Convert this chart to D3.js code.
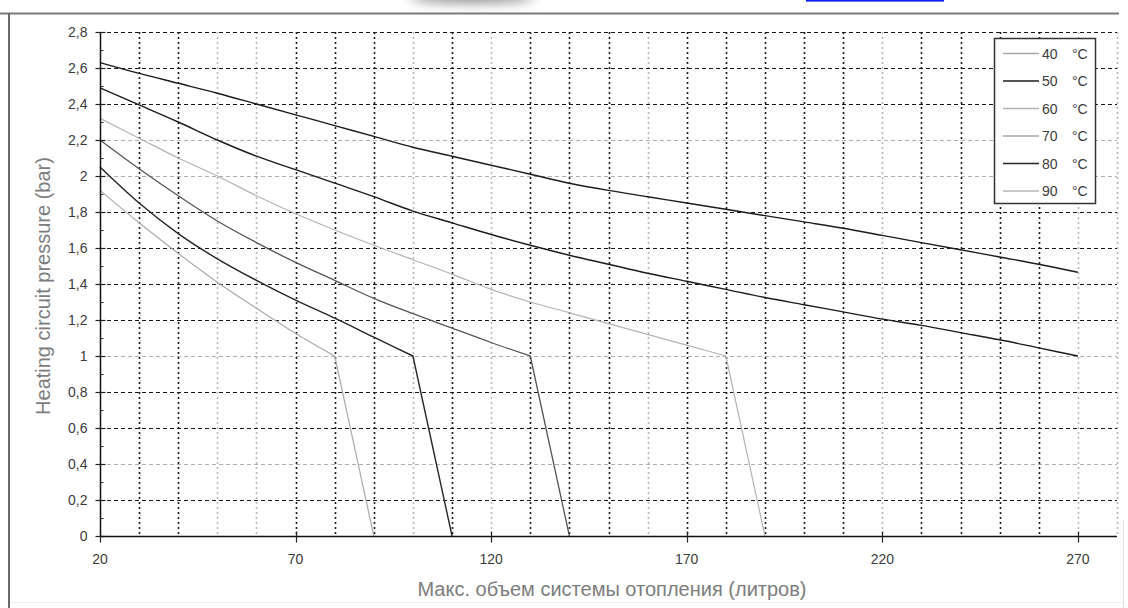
<!DOCTYPE html>
<html>
<head>
<meta charset="utf-8">
<script src="https://cdn.jsdelivr.net/npm/d3@7"></script>
<style>
  html, body { margin: 0; padding: 0; background: #fff; }
  svg { display: block; }
</style>
</head>
<body>
<svg id="chart" width="1128" height="608"></svg>
<script>
// ---------------- data ----------------
const seriesNames = ["40", "50", "60", "70", "80", "90"];
const vol40 = [20,30,40,50,60,70,80,90,100,110,120,130,140,150,160,170,180,190,200,210,220,230,240,250,260,270];
const p40   = [2.63,2.57,2.515,2.46,2.40,2.34,2.28,2.22,2.16,2.11,2.06,2.01,1.96,1.92,1.885,1.85,1.815,1.78,1.745,1.71,1.67,1.63,1.59,1.55,1.51,1.465];
const vol50 = [20,30,40,50,60,70,80,90,100,110,120,130,140,150,160,170,180,190,200,210,220,230,240,250,260,270];
const p50   = [2.49,2.395,2.30,2.20,2.11,2.035,1.96,1.885,1.805,1.74,1.675,1.615,1.56,1.51,1.46,1.415,1.37,1.325,1.285,1.245,1.205,1.17,1.13,1.09,1.045,1.0];
const vol60 = [20,30,40,50,60,70,80,90,100,110,120,130,140,150,160,170,180,190];
const p60   = [2.32,2.21,2.10,2.0,1.89,1.79,1.70,1.615,1.535,1.455,1.37,1.30,1.24,1.18,1.12,1.06,1.0,0];
const vol70 = [20,30,40,50,60,70,80,90,100,110,120,130,140];
const p70   = [2.20,2.04,1.89,1.75,1.63,1.52,1.42,1.32,1.235,1.155,1.075,1.0,0];
const vol80 = [20,30,40,50,60,70,80,90,100,110];
const p80   = [2.05,1.85,1.68,1.54,1.42,1.31,1.21,1.105,1.0,0];
const vol90 = [20,30,40,50,60,70,80,90];
const p90   = [1.92,1.74,1.57,1.41,1.265,1.125,1.0,0];

const xTickValues = [20,70,120,170,220,270];
const xTickLabels = ["20","70","120","170","220","270"];
const yTickValues = [0,0.2,0.4,0.6,0.8,1,1.2,1.4,1.6,1.8,2,2.2,2.4,2.6,2.8];
const yTickLabels = ["0","0,2","0,4","0,6","0,8","1","1,2","1,4","1,6","1,8","2","2,2","2,4","2,6","2,8"];
const xTitle = "Макс. объем системы отопления (литров)";
const yTitle = "Heating circuit pressure (bar)";
const unitLabel = "°C";

// ---------------- style ----------------
const lineColors   = ["#1c1c1c", "#1c1c1c", "#b4b4b4", "#555555", "#262626", "#ababab"];
const lineWidths   = [1.4, 1.4, 1.2, 1.3, 1.4, 1.2];
const legendColors = ["#a8a8a8", "#1c1c1c", "#b4b4b4", "#aaaaaa", "#262626", "#b4b4b4"];
const fadedV = [50, 60, 100, 120, 160, 220, 270, 280];
const fadedH = [2.2, 2.0, 1.0, 0.4];

const series = seriesNames.map((n, i) => ({
  name: n,
  vols: [vol40, vol50, vol60, vol70, vol80, vol90][i],
  ps:   [p40, p50, p60, p70, p80, p90][i]
}));

const svg = d3.select("#chart");
const x = d3.scaleLinear().domain([20, 280]).range([100, 1117]);
const y = d3.scaleLinear().domain([0, 2.8]).range([536, 32]);

// page fragments at top
const defs = svg.append("defs");
defs.append("filter").attr("id", "blur").attr("x", "-50%").attr("y", "-300%").attr("width", "200%").attr("height", "700%")
  .append("feGaussianBlur").attr("stdDeviation", 6);
svg.append("ellipse").attr("cx", 472).attr("cy", -3).attr("rx", 62).attr("ry", 6)
  .attr("fill", "#8a8a8a").attr("filter", "url(#blur)");
svg.append("rect").attr("x", 806).attr("y", 0).attr("width", 138).attr("height", 1.6).attr("fill", "#1020ff");

// frame
svg.append("line").attr("x1", 0).attr("x2", 1119).attr("y1", 13.5).attr("y2", 13.5).attr("stroke", "#7a7a7a").attr("stroke-width", 2);
svg.append("line").attr("x1", 9).attr("x2", 9).attr("y1", 13).attr("y2", 608).attr("stroke", "#6a6a6a").attr("stroke-width", 2);
svg.append("line").attr("x1", 1123.5).attr("x2", 1123.5).attr("y1", 520).attr("y2", 608).attr("stroke", "#dedede").attr("stroke-width", 1);
svg.append("line").attr("x1", 10).attr("x2", 1124).attr("y1", 602.5).attr("y2", 602.5).attr("stroke", "#ececec").attr("stroke-width", 1);

// grid
const vGrid = d3.range(30, 281, 10);
svg.append("g").selectAll("line").data(vGrid).join("line")
  .attr("x1", d => Math.round(x(d)) + 0.5).attr("x2", d => Math.round(x(d)) + 0.5)
  .attr("y1", y(2.8)).attr("y2", y(0))
  .attr("stroke", d => fadedV.includes(d) ? "#b8b8b8" : "#1a1a1a")
  .attr("stroke-width", 1.6)
  .attr("stroke-dasharray", "2,3");
const hGrid = yTickValues.filter(d => d > 0);
svg.append("g").selectAll("line").data(hGrid).join("line")
  .attr("x1", x(20)).attr("x2", x(280))
  .attr("y1", d => Math.round(y(d)) + 0.5).attr("y2", d => Math.round(y(d)) + 0.5)
  .attr("stroke", d => fadedH.some(f => Math.abs(f - d) < 1e-9) ? "#b0b0b0" : "#1a1a1a")
  .attr("stroke-width", 1.2)
  .attr("stroke-dasharray", "4,3");

// curves: smooth part through the points, straight drop to zero after the knee
const smooth = d3.line().x(d => x(d[0])).y(d => y(d[1])).curve(d3.curveMonotoneX);
function pathFor(s) {
  const pts = s.vols.map((v, i) => [v, s.ps[i]]);
  const last = pts[pts.length - 1];
  if (last[1] === 0) {
    return smooth(pts.slice(0, -1)) + "L" + x(last[0]) + "," + y(last[1]);
  }
  return smooth(pts);
}
svg.append("g").selectAll("path").data(series).join("path")
  .attr("d", pathFor)
  .attr("fill", "none")
  .attr("stroke", (s, i) => lineColors[i])
  .attr("stroke-width", (s, i) => lineWidths[i])
  .attr("stroke-linejoin", "round");

// axes
const tickFont = "'Liberation Sans', Arial, sans-serif";
const yAxis = svg.append("g").attr("transform", "translate(100.5,0)");
yAxis.append("line").attr("y1", y(2.8)).attr("y2", y(0) + 1).attr("stroke", "#111").attr("stroke-width", 1.5);
yAxis.selectAll("line.maj").data(yTickValues).join("line").attr("class", "maj")
  .attr("x1", -5).attr("x2", 5).attr("y1", d => Math.round(y(d)) + 0.5).attr("y2", d => Math.round(y(d)) + 0.5)
  .attr("stroke", "#222").attr("stroke-width", 1.2);
yAxis.selectAll("line.min").data(d3.range(1, 28, 2).map(k => k / 10)).join("line").attr("class", "min")
  .attr("x1", 0).attr("x2", 3).attr("y1", d => Math.round(y(d)) + 0.5).attr("y2", d => Math.round(y(d)) + 0.5)
  .attr("stroke", "#333").attr("stroke-width", 1);
yAxis.selectAll("text").data(yTickValues).join("text")
  .attr("x", -13).attr("y", d => y(d)).attr("dy", "0.36em")
  .attr("text-anchor", "end")
  .attr("font-family", tickFont).attr("font-size", 14).attr("fill", "#3c3c3c")
  .text((d, i) => yTickLabels[i]);

const xAxis = svg.append("g").attr("transform", "translate(0,536.5)");
xAxis.append("line").attr("x1", x(20)).attr("x2", x(280)).attr("stroke", "#111").attr("stroke-width", 1.5);
xAxis.selectAll("line.maj").data(xTickValues).join("line").attr("class", "maj")
  .attr("x1", d => Math.round(x(d)) + 0.5).attr("x2", d => Math.round(x(d)) + 0.5).attr("y1", -5).attr("y2", 6)
  .attr("stroke", "#222").attr("stroke-width", 1.2);
xAxis.selectAll("text").data(xTickValues).join("text")
  .attr("x", d => x(d)).attr("y", 27)
  .attr("text-anchor", "middle")
  .attr("font-family", tickFont).attr("font-size", 14).attr("fill", "#3c3c3c")
  .text((d, i) => xTickLabels[i]);

// titles
svg.append("text").attr("x", 612).attr("y", 596).attr("text-anchor", "middle")
  .attr("font-family", "'Liberation Sans', Arial, sans-serif").attr("font-size", 20).attr("fill", "#7d7d7d")
  .text(xTitle);
svg.append("text").attr("transform", "translate(50,286) rotate(-90)").attr("text-anchor", "middle")
  .attr("font-family", "'Liberation Sans', Arial, sans-serif").attr("font-size", 20).attr("fill", "#7d7d7d")
  .text(yTitle);

// legend
const lg = svg.append("g");
lg.append("rect").attr("x", 994.5).attr("y", 38.5).attr("width", 101).attr("height", 165)
  .attr("fill", "#fff").attr("stroke", "#333").attr("stroke-width", 1.5);
const rows = lg.selectAll("g.row").data(series).join("g").attr("class", "row")
  .attr("transform", (d, i) => `translate(0,${53.5 + i * 27.5})`);
rows.append("line").attr("x1", 1003).attr("x2", 1039).attr("y1", 0).attr("y2", 0)
  .attr("stroke", (d, i) => legendColors[i]).attr("stroke-width", 1.4);
rows.append("text").attr("x", 1042).attr("y", 0).attr("dy", "0.36em")
  .attr("font-family", tickFont).attr("font-size", 14).attr("fill", "#3c3c3c")
  .text(d => d.name);
rows.append("text").attr("x", 1072).attr("y", 0).attr("dy", "0.36em")
  .attr("font-family", tickFont).attr("font-size", 14).attr("fill", "#3c3c3c")
  .text(unitLabel);
</script>
</body>
</html>
